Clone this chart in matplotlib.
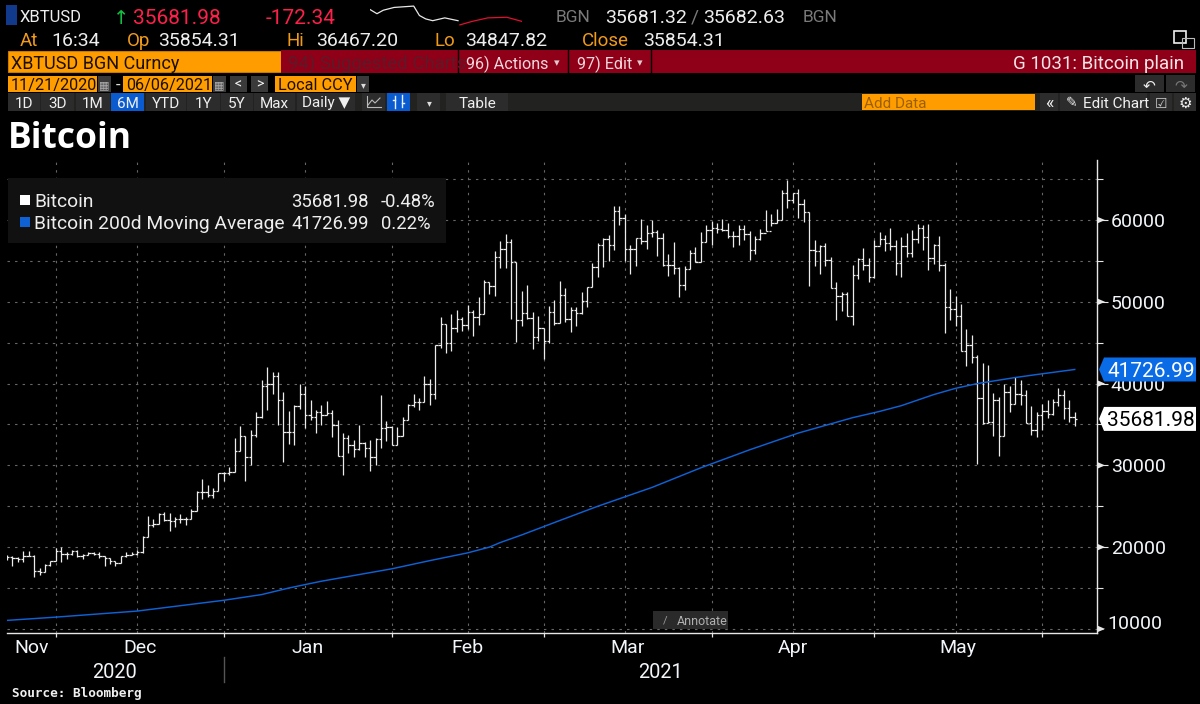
import numpy as np
import pandas as pd
import matplotlib
matplotlib.use("Agg")
import matplotlib.pyplot as plt
import matplotlib.dates as mdates
from matplotlib.patches import Rectangle, Polygon

plt.rcParams['font.family'] = ['Roboto', 'DejaVu Sans']

# ---------- data ----------
start_date = '2020-11-21'
opens = [18620,18780,18690,18530,18900,18940,17100,16980,17800,18290,
 19470,19220,19140,19550,18900,18980,19300,19220,18900,18690,
 18330,18080,18860,19020,19180,19390,21260,22690,22810,24080,
 23300,23180,23470,23430,23430,24400,26770,26690,26320,26900,
 29020,29060,29140,31710,33570,31015,33730,35930,39700,39990,
 40880,38040,34020,34060,37270,38770,36210,35930,36540,36210,
 36410,34910,31180,33290,32440,31950,32760,32070,31010,33210,
 34590,34710,32520,33610,35520,37350,37750,37800,39990,38730,
 44670,47300,44980,46770,47870,47180,48810,48120,48530,52440,
 51950,55540,56440,57260,54850,47830,48650,48000,45670,46810,
 45180,48810,47380,50890,47870,49020,48610,50120,51870,54240,
 57010,57710,56980,61060,60240,56450,56450,57800,57470,58410,
 58530,57800,54530,54450,54170,52000,54000,55960,54900,57270,
 58780,58980,58900,58780,58040,58000,58900,58330,56330,57670,
 58410,58650,59630,59960,63300,62450,63300,62000,60980,56290,
 56200,56780,55060,51680,50660,50980,48210,53270,55270,54490,
 53020,56860,57670,57230,56860,54780,56860,55960,57670,59020,
 57920,55390,56900,54490,49350,49180,48280,44040,44730,43260,
 38290,35230,35310,38040,33640,38980,37550,38780,38570,35190,
 34290,36120,36610,36250,37760,38650,37060,35854.31]
highs = [19020,18900,18780,19470,19550,18980,17390,17920,18330,19840,
 20000,19390,19630,19590,19140,19390,19390,19390,18900,18730,
 18330,18900,19430,19430,19630,21310,23750,23430,24200,24280,
 24200,23630,24080,23630,24690,26810,28360,27550,27180,29060,
 29140,29790,33300,34870,33570,34300,36500,40390,42020,41410,
 41410,38970,36620,37350,39990,39700,37960,36820,37350,37840,
 36820,35600,33900,33690,33090,34910,32880,33090,33290,38650,
 35400,34790,34710,35930,37550,38770,38240,40900,40520,44670,
 48120,47300,48530,48940,48120,49630,48940,50570,52610,52400,
 56200,57500,58320,57630,54930,51380,52040,48810,48320,46810,
 49510,50240,52530,51710,49340,49340,51260,51870,54730,57220,
 57830,58120,61750,61670,60730,56980,57800,60120,59430,59960,
 58820,58410,55880,57270,54210,54330,56370,56700,58490,59430,
 59840,59630,60120,59630,58610,59350,59430,58610,58080,58900,
 61180,60730,61350,63710,64940,63300,63790,62610,60980,57590,
 56980,57190,55470,52370,51150,51150,54450,55350,56530,55310,
 57510,58530,58120,59020,57590,57920,58410,58740,59550,59350,
 59550,57020,58080,54740,51550,50730,49790,46650,45920,43550,
 42570,42240,38900,38370,40000,39760,40860,40410,39270,37270,
 36490,37550,37960,38160,39470,39270,37960,36467.20]
lows = [18410,17720,18200,18200,18860,16370,16650,16900,17670,18290,
 18200,18490,19060,18820,18610,18980,18980,18690,17720,17960,
 17720,18080,18820,19060,19060,19300,21220,22490,22810,23180,
 22000,22410,22980,22690,23430,24360,25830,26120,25960,26900,
 28120,28850,29140,31790,28130,30000,33490,35850,36740,38770,
 34990,30400,32600,32480,36940,34510,35600,33980,34990,36130,
 33490,31140,28860,31540,31060,31870,30970,29350,30000,32150,
 32960,32440,32520,33570,35520,37150,36740,37750,37430,38110,
 44320,43750,44040,46280,46410,46690,45880,47180,48530,50980,
 50730,54160,54120,47920,45060,47020,47920,44240,45260,43020,
 44980,47180,47420,47500,46360,47100,48530,49340,51870,53020,
 54320,54970,56370,59430,54940,53390,54330,57100,56450,57920,
 55640,54330,53100,53390,50570,51470,54000,54820,54860,57270,
 56980,58410,58610,57800,56650,56980,57510,55140,55840,57590,
 58650,59220,59630,59960,61470,62080,60240,59760,51880,54410,
 53430,54410,51680,47720,48820,48210,47190,52820,53920,52450,
 52900,56900,56160,56370,53310,53020,55470,55470,57180,56370,
 53840,54650,53760,46170,47830,47060,43980,42200,42530,30130,
 35100,35230,33590,31150,33640,36530,37470,37350,35190,33670,
 33470,34290,35840,36210,37270,35630,35310,34847.82]
closes = opens[1:] + [35681.98]

ma_days = [0,9,24,40,47,52,55,58,71,78,85,89,91,95,102,109,119,128,137,146,156,161,165,171,175,179,186,190,197]
ma_vals = [11040,11440,12180,13500,14200,15000,15420,15830,17350,18350,19300,20000,20560,21500,23260,25000,
           27300,29700,31900,33950,35830,36600,37300,38660,39420,40000,40740,41110,41726.99]

grid_dates = ['2020-11-30','2020-12-15','2020-12-31','2021-01-15','2021-01-31','2021-02-14','2021-02-28',
              '2021-03-15','2021-03-31','2021-04-15','2021-04-30','2021-05-15','2021-05-31']
month_ends = ['2020-11-30','2020-12-31','2021-01-31','2021-02-28','2021-03-31','2021-04-30','2021-05-31']
month_labels = ['Nov','Dec','Jan','Feb','Mar','Apr','May']
major_levels = [20000,30000,40000,50000,60000]
grid_levels = list(range(10000,65001,5000))
last_close = 35681.98
last_ma = 41726.99

spark_hours = [0,1.1,2.1,3.8,6.9,7.8,8.8,9.9,11.8,13.9]
spark_white = [36170,35810,36110,36350,36467,35657,35360,35207,35450,35207]
spark_hours_red = [14.2,16.1,18.6,21.6,24]
spark_red = [34847,35144,35450,35504,35144]

# ---------- figure ----------
W, H = 1200, 704
fig = plt.figure(figsize=(W/100, H/100), dpi=100, facecolor='black')
def box(l, t, r, b):
    return [l/W, 1-b/H, (r-l)/W, (b-t)/H]

ax = fig.add_axes(box(7, 160, 1097, 633), facecolor='black', zorder=1)
dates = pd.date_range(start_date, periods=len(closes), freq='D')
xs = mdates.date2num(dates)
px_per_day = 5.42
ax.set_xlim(xs[0], xs[0] + (1097-7)/px_per_day)
ax.set_ylim(9499, 67345)

grid_kw = dict(color='#666666', lw=0.8, ls=(0, (2.2, 4.6)), zorder=1)
for v in grid_levels:
    ax.axhline(v, **grid_kw)
for d in grid_dates:
    ax.axvline(mdates.date2num(pd.Timestamp(d)), **grid_kw)

tick_w = 0.44
bar_kw = dict(color='#ececec', lw=0.9, zorder=3)
ax.vlines(xs, lows, highs, **bar_kw)
ax.hlines(opens, xs - tick_w, xs, **bar_kw)
ax.hlines(closes, xs, xs + tick_w, **bar_kw)

ma_x = xs[np.array(ma_days)]
ax.plot(ma_x, ma_vals, color='#0f62d6', lw=1.05, zorder=4)

for s in ['top', 'left']:
    ax.spines[s].set_visible(False)
for s in ['right', 'bottom']:
    ax.spines[s].set_color('#e6e6e6')
    ax.spines[s].set_linewidth(1.0)

ax.yaxis.tick_right()
ax.set_yticks(major_levels)
ax.set_yticklabels([str(v) for v in major_levels], fontsize=14, color='#f2f6fa')
ax.set_yticks(grid_levels, minor=True)
ax.tick_params(axis='y', which='major', length=8, width=0.8, color='#e6e6e6', pad=2)
ax.tick_params(axis='y', which='minor', length=4, width=0.8, color='#e6e6e6')

edges = [xs[0]] + [mdates.date2num(pd.Timestamp(d)) for d in month_ends]
ax.set_xticks(edges[1:])
ax.set_xticklabels([])
ax.set_xticks([(a+b)/2 for a, b in zip(edges[:-1], edges[1:])], minor=True)
ax.set_xticklabels(month_labels, minor=True, fontsize=14, color='#f2f6fa')
ax.tick_params(axis='x', which='major', length=3, width=0.9, color='#e6e6e6')
ax.tick_params(axis='x', which='minor', length=0, pad=4.5)

# overlay in pixel coordinates
ov = fig.add_axes([0, 0, 1, 1], facecolor='none', zorder=5)
ov.set_xlim(0, W); ov.set_ylim(H, 0); ov.axis('off')

def rect(l, t, r, b, fc, ec='none', lw=0, z=1):
    ov.add_patch(Rectangle((l, t), r-l, b-t, fc=fc, ec=ec, lw=lw, zorder=z))
def txt(x, y, s, size=13, color='#eeeeee', ha='left', **kw):
    ov.text(x, y, s, fontsize=size, color=color, ha=ha, va='center_baseline', zorder=3, **kw)

def py(v):
    ylo, yhi = ax.get_ylim()
    return 633 - (v - ylo) / (yhi - ylo) * (633 - 160)

ORANGE = '#ff9d00'; LBL = '#f09a1a'; RED = '#ff1f4b'; MAROON = '#8f0018'; GREY = '#7a7a7a'

# row 1
rect(6, 5, 17, 25, '#123a8c')
txt(20, 16, 'XBTUSD', 12)
txt(113, 16, '↑', 14, '#10c040', family=['DejaVu Sans'])
txt(133, 16, '35681.98', 15, RED)
txt(266, 16, '-172.34', 15, RED)
txt(556, 16, 'BGN', 12.5, GREY)
txt(605, 16, '35681.32', 14)
txt(691, 16, '/', 14, GREY)
txt(703, 16, '35682.63', 14)
txt(803, 16, 'BGN', 12.5, GREY)
# row 2
for x, s in [(20, 'At'), (127, 'Op'), (286, 'Hi'), (435, 'Lo'), (582, 'Close')]:
    txt(x, 39, s, 13.5, LBL)
for x, s in [(51, '16:34'), (158, '35854.31'), (316, '36467.20'), (465, '34847.82'), (643, '35854.31')]:
    txt(x, 39, s, 14)

# sparkline
sp = fig.add_axes(box(370, 5, 522, 26), facecolor='none', zorder=6)
sp.plot(spark_hours, spark_white, color='#e8e8e8', lw=0.9)
sp.plot(spark_hours_red, spark_red, color='#e01030', lw=0.9)
sp.set_xlim(0, 24); sp.set_ylim(34750, 36560); sp.axis('off')

# row 3
rect(8, 51, 281, 72, ORANGE, ec='#c97a00', lw=0.8)
txt(11, 62, 'XBTUSD BGN Curncy', 13, '#1a1000')
rect(281, 50, 1196, 73, MAROON)
for x in [458, 568, 651]:
    ov.plot([x, x], [50, 73], color='#000000', lw=1)
txt(288, 62, '94) Suggested Charts', 13.3, '#5c1a28')
txt(466, 62, '96) Actions', 11.6, '#f0d8dc')
txt(557, 62, '▾', 8, '#e0c8cc', ha='center', family=['DejaVu Sans'])
txt(577, 62, '97) Edit', 11.6, '#f0d8dc')
txt(640, 62, '▾', 8, '#e0c8cc', ha='center', family=['DejaVu Sans'])
txt(1184, 62, 'G 1031: Bitcoin plain', 13.5, '#f4e4e6', ha='right')

# row 4
for l, r, s in [(8, 97, '11/21/2020'), (123, 212, '06/06/2021'), (275, 356, 'Local CCY')]:
    rect(l, 76, r, 92, ORANGE)
    txt(l+3, 84, s, 11.7, '#1a1000')
for l, r in [(98, 111), (213, 226), (230, 247), (251, 268), (357, 369)]:
    rect(l, 76, r, 92, '#3a3a3a')
for xc in [104.5, 219.5]:
    txt(xc, 84, '▦', 8, '#b0b0b0', ha='center', family=['DejaVu Sans'])
txt(116, 84, '-', 12, '#dddddd')
txt(238.5, 83, '<', 10, '#eeeeee', ha='center')
txt(259.5, 83, '>', 10, '#eeeeee', ha='center')
txt(363, 84, '▾', 7, '#dddddd', ha='center', family=['DejaVu Sans'])
for l in [1135, 1166]:
    rect(l, 75, l+29, 92, '#2c2c2c')
txt(1149.5, 84, '↶', 11, '#eeeeee', ha='center', family=['DejaVu Sans'])
txt(1180.5, 84, '↷', 11, '#777777', ha='center', family=['DejaVu Sans'])

# row 5
rect(8, 93, 1196, 111, '#222220')
buttons = [(8, 40, '1D'), (41, 74, '3D'), (76, 110, '1M'), (111, 144, '6M'), (146, 186, 'YTD'),
           (187, 220, '1Y'), (221, 253, '5Y'), (254, 295, 'Max'), (297, 355, 'Daily ▼')]
for l, r, s in buttons:
    rect(l, 93, r, 111, '#0a5bd0' if s == '6M' else '#2c2c2c')
    txt((l+r)/2, 102, s, 11, '#f0f0f0', ha='center')
rect(362, 93, 385, 111, '#2c2c2c')
ov.plot([367, 367, 381], [96, 107, 107], color='#bbbbbb', lw=0.8, zorder=3)
ov.plot([368, 372, 375, 380], [105, 100, 103, 98], color='#bbbbbb', lw=0.8, zorder=3)
rect(387, 93, 410, 111, '#0a5bd0')
ov.plot([395, 395], [96, 108], color='#e8f0ff', lw=1.0, zorder=3)
ov.plot([402, 402], [95, 107], color='#e8f0ff', lw=1.0, zorder=3)
ov.plot([393, 395], [100, 100], color='#e8f0ff', lw=1.0, zorder=3)
ov.plot([402, 404], [103, 103], color='#e8f0ff', lw=1.0, zorder=3)
rect(417, 93, 440, 111, '#2c2c2c')
txt(429, 102, '▾', 7, '#dddddd', ha='center', family=['DejaVu Sans'])
rect(446, 93, 508, 111, '#2c2c2c')
txt(477, 102, 'Table', 11, '#f0f0f0', ha='center')
rect(862, 94, 1035, 110, ORANGE)
txt(864, 102, 'Add Data', 11, '#9a6000')
rect(1040, 93, 1058, 111, '#2c2c2c')
txt(1049, 101, '«', 13, '#eeeeee', ha='center')
rect(1060, 93, 1147, 111, '#2c2c2c')
txt(1072, 102, '✎', 10, '#eeeeee', ha='center', family=['DejaVu Sans'])
txt(1083, 102, 'Edit Chart', 11, '#f0f0f0')
rect(1150, 93, 1172, 111, '#2c2c2c')
txt(1161, 102, '☑', 10, '#cccccc', ha='center', family=['DejaVu Sans'])
rect(1174, 93, 1196, 111, '#2c2c2c')
txt(1185, 102, '⚙', 11, '#eeeeee', ha='center', family=['DejaVu Sans'])
# pop-out icon
rect(1174, 31, 1186, 43, 'none', ec='#eeeeee', lw=1.2, z=3)
rect(1182, 38, 1194, 48, 'none', ec='#bbbbbb', lw=0.8, z=3)

# title
txt(8, 135, 'Bitcoin', 25.5, '#ffffff', fontweight='bold', family=['Open Sans'])

# legend panel
rect(8, 178, 446, 243, '#111111')
rect(20, 195, 30, 205, '#ffffff', z=2)
rect(20, 217, 30, 227, '#0f62d6', z=2)
txt(34, 200, 'Bitcoin', 13.9)
txt(34, 222, 'Bitcoin 200d Moving Average', 13.9)
txt(291, 200, f'{last_close:.2f}', 13.3)
txt(291, 222, f'{last_ma:.2f}', 13.3)
txt(381, 200, '-0.48%', 13.3)
txt(381, 222, '0.22%', 13.3)

# axis arrows and special labels
for v in major_levels + [10000]:
    ov.add_patch(Polygon([(1097, py(v)-3.5), (1105, py(v)), (1097, py(v)+3.5)], fc='#e6e6e6', ec='none', zorder=2))
txt(1107, 622, '10000', 14, '#f2f6fa')

def flag(v, s, fc, tc):
    y = py(v)
    ov.add_patch(Polygon([(1099, y), (1104, y-12), (1196, y-12), (1196, y+12), (1104, y+12)],
                         fc=fc, ec='none', zorder=2))
    txt(1107, y, s, 15, tc)
flag(last_ma, f'{last_ma:.2f}', '#0a6be6', '#ffffff')
flag(last_close, f'{last_close:.2f}', '#ffffff', '#000000')

# annotate box
rect(653, 611, 728, 629, '#2a2a2a')
txt(665, 620, '/', 8, '#999999', ha='center')
txt(677, 620, 'Annotate', 9, '#b0b0b0')

# years and source
txt(114.5, 670, '2020', 14.4, '#f2f6fa', ha='center')
txt(660.5, 670, '2021', 14.4, '#f2f6fa', ha='center')
ov.plot([224, 224], [657, 682], color='#555555', lw=1.0)
ov.text(12, 692, 'Source: Bloomberg', fontsize=9.2, color='#f0f0f0', family=['DejaVu Sans Mono'],
        fontweight='bold', va='center_baseline', zorder=3)

fig.savefig('out.png', dpi=100, facecolor='black')
